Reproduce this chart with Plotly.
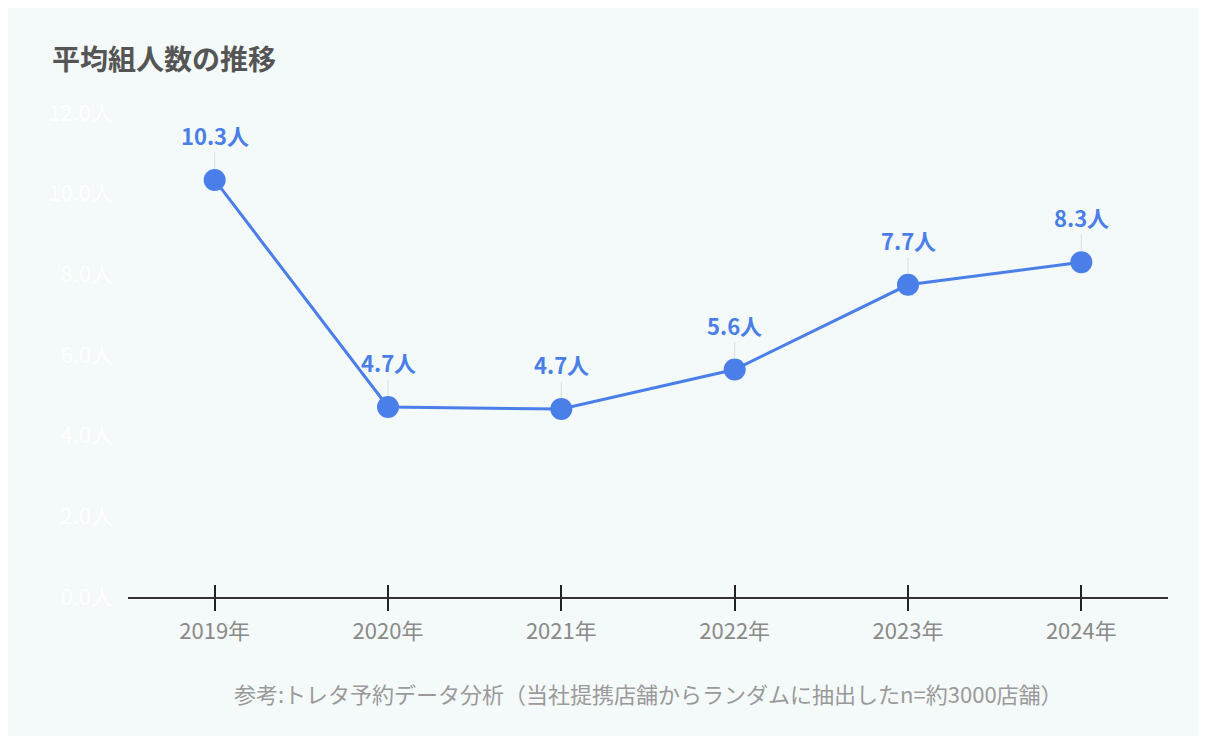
import plotly.graph_objects as go

years = ["2019年", "2020年", "2021年", "2022年", "2023年", "2024年"]
avg_group_size = [10.34, 4.71, 4.66, 5.64, 7.74, 8.3]
title_text = "平均組人数の推移"
footer_text = "参考:トレタ予約データ分析（当社提携店舗からランダムに抽出したn=約3000店舗）"

BG = "#f4f9f9"
BLUE = "#4a7fe9"
FONT = "Noto Sans CJK JP"

fig = go.Figure()
fig.add_trace(go.Scatter(
    x=years, y=avg_group_size, mode="lines+markers",
    line=dict(color=BLUE, width=3),
    marker=dict(size=22, color=BLUE),
    hoverinfo="skip", showlegend=False,
))
fig.add_trace(go.Scatter(
    x=years, y=avg_group_size, mode="lines", xaxis="x2",
    line=dict(width=0), opacity=0, hoverinfo="skip", showlegend=False,
))

for xv, yv in zip(years, avg_group_size):
    fig.add_annotation(
        x=xv, y=yv, xref="x", yref="y",
        text=f"{yv:.1f}人", showarrow=True, arrowhead=0, arrowwidth=1,
        arrowcolor="#dddddd", ax=0, ay=-45, standoff=11,
        font=dict(family=FONT, size=22, color=BLUE, weight="bold",
                  shadow=f"1px 1px 1px {BG}, -1px -1px 1px {BG}, 1px -1px 1px {BG}, -1px 1px 1px {BG}"),
    )

fig.add_annotation(
    x=0.5, y=-0.198, xref="paper", yref="paper", showarrow=False,
    text=footer_text, font=dict(family=FONT, size=22, color="#9a9a9a"),
    yanchor="middle",
)

fig.update_layout(
    width=1190, height=728,
    margin=dict(l=120, r=30, t=105, b=139),
    paper_bgcolor=BG, plot_bgcolor=BG,
    font=dict(family=FONT),
    title=dict(text=title_text, x=44 / 1190, xanchor="left", xref="container",
               y=1 - 52 / 728, yanchor="middle",
               font=dict(family=FONT, size=28, color="#555555", weight="bold")),
    xaxis=dict(type="category", range=[-0.5, 5.5], showgrid=False,
               showline=True, linecolor="#333333", linewidth=2,
               ticks="outside", ticklen=12, tickwidth=2, tickcolor="#222222",
               tickfont=dict(family=FONT, size=22, color="#8a8a8a"),
               ticklabelstandoff=2,
               zeroline=False, fixedrange=True),
    xaxis2=dict(type="category", range=[-0.5, 5.5], overlaying="x", anchor="y",
                side="bottom", showgrid=False, showline=False,
                ticks="inside", ticklen=12, tickwidth=2, tickcolor="#222222",
                showticklabels=False, zeroline=False),
    yaxis=dict(range=[0, 12], dtick=2, tickformat=".1f", ticksuffix="人",
               showgrid=False, zeroline=False, showline=False,
               tickfont=dict(family=FONT, size=22, color="#ffffff"),
               ticklabelstandoff=14),
)

fig.write_html("out.html")
